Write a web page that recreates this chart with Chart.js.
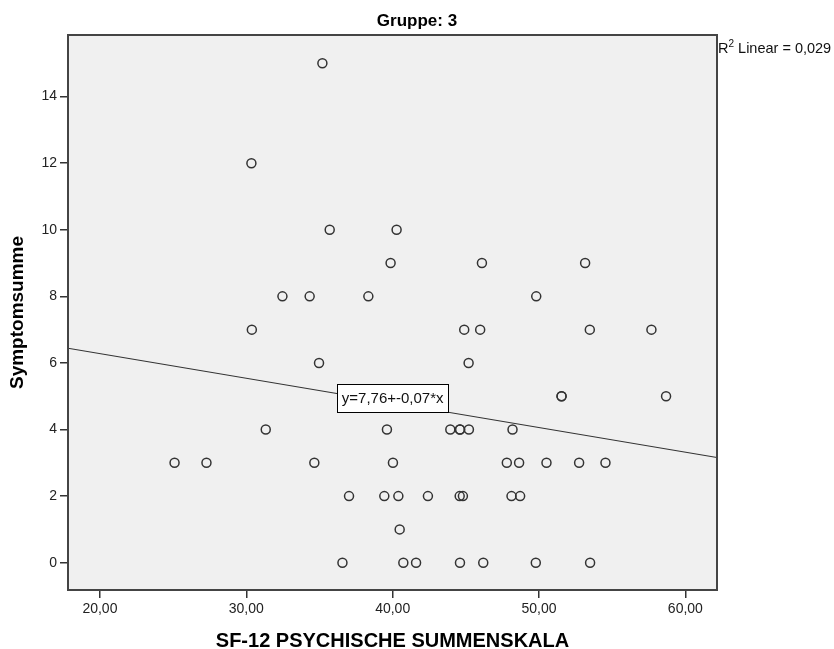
<!DOCTYPE html>
<html>
<head>
<meta charset="utf-8">
<title>Gruppe: 3</title>
<script src="https://cdn.jsdelivr.net/npm/chart.js@4.4.1/dist/chart.umd.min.js"></script>
<style>
  html, body { margin: 0; padding: 0; background: #fff; }
  #wrap { width: 834px; height: 649px; }
</style>
</head>
<body>
<div id="wrap"><canvas id="scatter" width="834" height="649"></canvas></div>
<script>
// SF-12 psychische Summenskala (x) and Symptomsumme (y), one entry per case
const SF12_SCORES = [
  35.20,
  30.35,
  35.70, 40.27,
  39.86, 46.10, 53.15,
  32.47, 34.33, 38.34, 49.81,
  30.38, 44.89, 45.98, 53.47, 57.68,
  34.97, 45.19,
  51.54, 51.54, 58.68,
  31.33, 39.61, 43.94, 44.60, 44.60, 45.21, 48.19,
  25.10, 27.28, 34.65, 40.02, 47.80, 48.64, 50.51, 52.74, 54.54,
  37.02, 39.43, 40.39, 42.41, 44.58, 44.80, 48.12, 48.71,
  40.48,
  36.57, 40.73, 41.60, 44.60, 46.19, 49.78, 53.49,
];
const SYMPTOM_SUMS = [
  15,
  12,
  10, 10,
  9, 9, 9,
  8, 8, 8, 8,
  7, 7, 7, 7, 7,
  6, 6,
  5, 5, 5,
  4, 4, 4, 4, 4, 4, 4,
  3, 3, 3, 3, 3, 3, 3, 3, 3,
  2, 2, 2, 2, 2, 2, 2, 2,
  1,
  0, 0, 0, 0, 0, 0, 0,
];

const X_TICKS = [20, 30, 40, 50, 60];
const Y_TICKS = [0, 2, 4, 6, 8, 10, 12, 14];
const X_RANGE = [17.82, 62.16];
const Y_RANGE = [-0.82, 15.85];

// linear fit as drawn (label rounds the slope)
const FIT_INTERCEPT = 7.76;
const FIT_SLOPE = -0.074;
const FIT_LABEL = "y=7,76+-0,07*x";
const FIT_LABEL_AT = { x: 40.0, y: 4.96 };
const R2_TEXT = "0,029";

const TITLE = "Gruppe: 3";
const X_TITLE = "SF-12 PSYCHISCHE SUMMENSKALA";
const Y_TITLE = "Symptomsumme";

const FONT = '"Liberation Sans", Arial, sans-serif';
const INK = "#333";

const points = SF12_SCORES.map((x, i) => ({ x, y: SYMPTOM_SUMS[i] }));
const fitLine = X_RANGE.map(x => ({ x, y: FIT_INTERCEPT + FIT_SLOPE * x }));

function fmtComma(v) {
  return v.toFixed(2).replace(".", ",");
}

const spssFrame = {
  id: "spssFrame",
  beforeDraw(chart) {
    const { ctx, chartArea: a } = chart;
    ctx.save();
    ctx.fillStyle = "#f0f0f0";
    ctx.fillRect(a.left, a.top, a.width, a.height);
    ctx.restore();
  },
  afterDatasetsDraw(chart) {
    const { ctx, scales } = chart;
    // equation box on the fit line
    const cx = scales.x.getPixelForValue(FIT_LABEL_AT.x);
    const cy = scales.y.getPixelForValue(FIT_LABEL_AT.y);
    ctx.save();
    ctx.font = "15px " + FONT;
    const w = Math.round(ctx.measureText(FIT_LABEL).width + 9);
    const h = 28;
    const bx = Math.round(cx - w / 2) + 0.5;
    const by = Math.round(cy - h / 2) + 0.5;
    ctx.fillStyle = "#fff";
    ctx.fillRect(bx, by, w, h);
    ctx.strokeStyle = "#000";
    ctx.lineWidth = 1;
    ctx.strokeRect(bx, by, w, h);
    ctx.fillStyle = "#111";
    ctx.textAlign = "center";
    ctx.textBaseline = "middle";
    ctx.fillText(FIT_LABEL, cx, cy + 1);
    ctx.restore();
  },
  afterDraw(chart) {
    const { ctx, chartArea: a } = chart;
    ctx.save();
    ctx.strokeStyle = "#444";
    ctx.lineWidth = 2;
    ctx.strokeRect(a.left, a.top, a.width, a.height);

    ctx.fillStyle = "#000";
    ctx.textBaseline = "middle";
    ctx.textAlign = "center";
    ctx.font = "bold 17px " + FONT;
    ctx.fillText(TITLE, chart.width / 2, 21);

    // R² Linear = ...
    ctx.fillStyle = "#111";
    ctx.textAlign = "left";
    let x = a.right + 1;
    ctx.font = "14.5px " + FONT;
    ctx.fillText("R", x, 49);
    x += ctx.measureText("R").width;
    ctx.font = "10px " + FONT;
    ctx.fillText("2", x, 44);
    x += ctx.measureText("2").width;
    ctx.font = "14.5px " + FONT;
    ctx.fillText(" Linear = " + R2_TEXT, x, 49);
    ctx.restore();
  },
};

new Chart(document.getElementById("scatter"), {
  type: "scatter",
  data: {
    datasets: [
      {
        label: "Symptomsumme",
        data: points,
        pointRadius: 4.5,
        pointHoverRadius: 4.5,
        pointBorderWidth: 1.5,
        pointBorderColor: INK,
        pointBackgroundColor: "rgba(0,0,0,0)",
        showLine: false,
      },
      {
        type: "line",
        label: "Linear",
        data: fitLine,
        borderColor: INK,
        borderWidth: 1.2,
        pointRadius: 0,
        fill: false,
        order: 1,
      },
    ],
  },
  options: {
    responsive: false,
    animation: false,
    devicePixelRatio: 1,
    layout: { padding: { top: 35, right: 117, left: 0, bottom: 0 } },
    plugins: {
      legend: { display: false },
      tooltip: { enabled: false },
      title: { display: false },
    },
    scales: {
      x: {
        type: "linear",
        min: X_RANGE[0],
        max: X_RANGE[1],
        afterBuildTicks: s => { s.ticks = X_TICKS.map(v => ({ value: v })); },
        afterFit: s => { s.height = 59; },
        border: { display: false },
        grid: { drawOnChartArea: false, drawTicks: true, tickLength: 8, color: INK, lineWidth: 1.5 },
        ticks: {
          padding: 3,
          color: "#222",
          font: { family: FONT, size: 14 },
          callback: v => fmtComma(v),
          maxRotation: 0,
        },
        title: {
          display: true,
          text: X_TITLE,
          color: "#000",
          font: { family: FONT, size: 20, weight: "bold", lineHeight: 1 },
          padding: { top: 0, bottom: -2 },
        },
      },
      y: {
        type: "linear",
        min: Y_RANGE[0],
        max: Y_RANGE[1],
        afterBuildTicks: s => { s.ticks = Y_TICKS.map(v => ({ value: v })); },
        afterFit: s => { s.width = 68; },
        border: { display: false },
        grid: { drawOnChartArea: false, drawTicks: true, tickLength: 8, color: INK, lineWidth: 1.5 },
        ticks: {
          padding: 3,
          color: "#222",
          font: { family: FONT, size: 14 },
          callback: v => String(v),
        },
        title: {
          display: true,
          text: Y_TITLE,
          color: "#000",
          font: { family: FONT, size: 19, weight: "bold", lineHeight: 1 },
          padding: { top: 8, bottom: 0 },
        },
      },
    },
  },
  plugins: [spssFrame],
});
</script>
</body>
</html>
